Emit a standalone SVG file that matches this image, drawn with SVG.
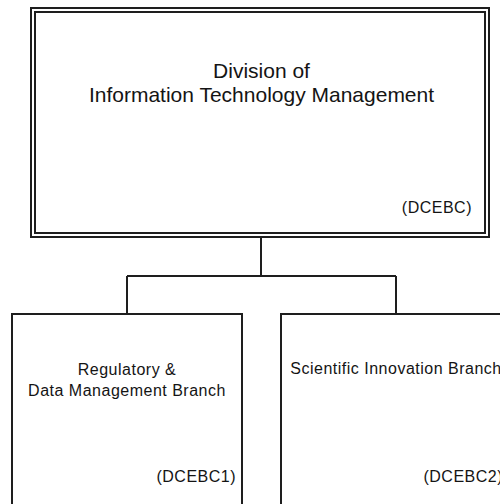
<svg xmlns="http://www.w3.org/2000/svg" width="500" height="504" viewBox="0 0 500 504">
<style>
.box{fill:#fff;stroke:#1e1e1e;stroke-width:2}
.dbl{fill:none;stroke:#1e1e1e;stroke-width:2}
.conn{fill:none;stroke:#1e1e1e;stroke-width:2}
.t{font-family:"Liberation Sans",Arial,sans-serif;fill:#141414}
.big{font-size:21px}
.small{font-size:16px;letter-spacing:0.5px}
</style>
<rect width="500" height="504" fill="#fff"/>
<g id="connectors">
<path class="conn" d="M261 237 V276 M127 276 H396 M127 276 V314 M396 276 V314"/>
</g>
<g id="node-dcebc">
<rect class="box" x="31" y="8" width="458" height="229"/>
<rect class="dbl" x="35" y="12" width="450" height="221"/>
<text class="t big" x="261.5" y="78" text-anchor="middle">Division of</text>
<text class="t big" x="261.5" y="102" text-anchor="middle">Information Technology Management</text>
<text class="t small" x="472" y="213" text-anchor="end">(DCEBC)</text>
</g>
<g id="node-dcebc1">
<rect class="box" x="12" y="314" width="230" height="220"/>
<text class="t small" x="127" y="375" text-anchor="middle">Regulatory &amp;</text>
<text class="t small" x="127" y="396" text-anchor="middle">Data Management Branch</text>
<text class="t small" x="236" y="482" text-anchor="end">(DCEBC1)</text>
</g>
<g id="node-dcebc2">
<rect class="box" x="281" y="314" width="230" height="220"/>
<text class="t small" x="396" y="374" text-anchor="middle">Scientific Innovation Branch</text>
<text class="t small" x="503" y="482" text-anchor="end">(DCEBC2)</text>
</g>
</svg>
